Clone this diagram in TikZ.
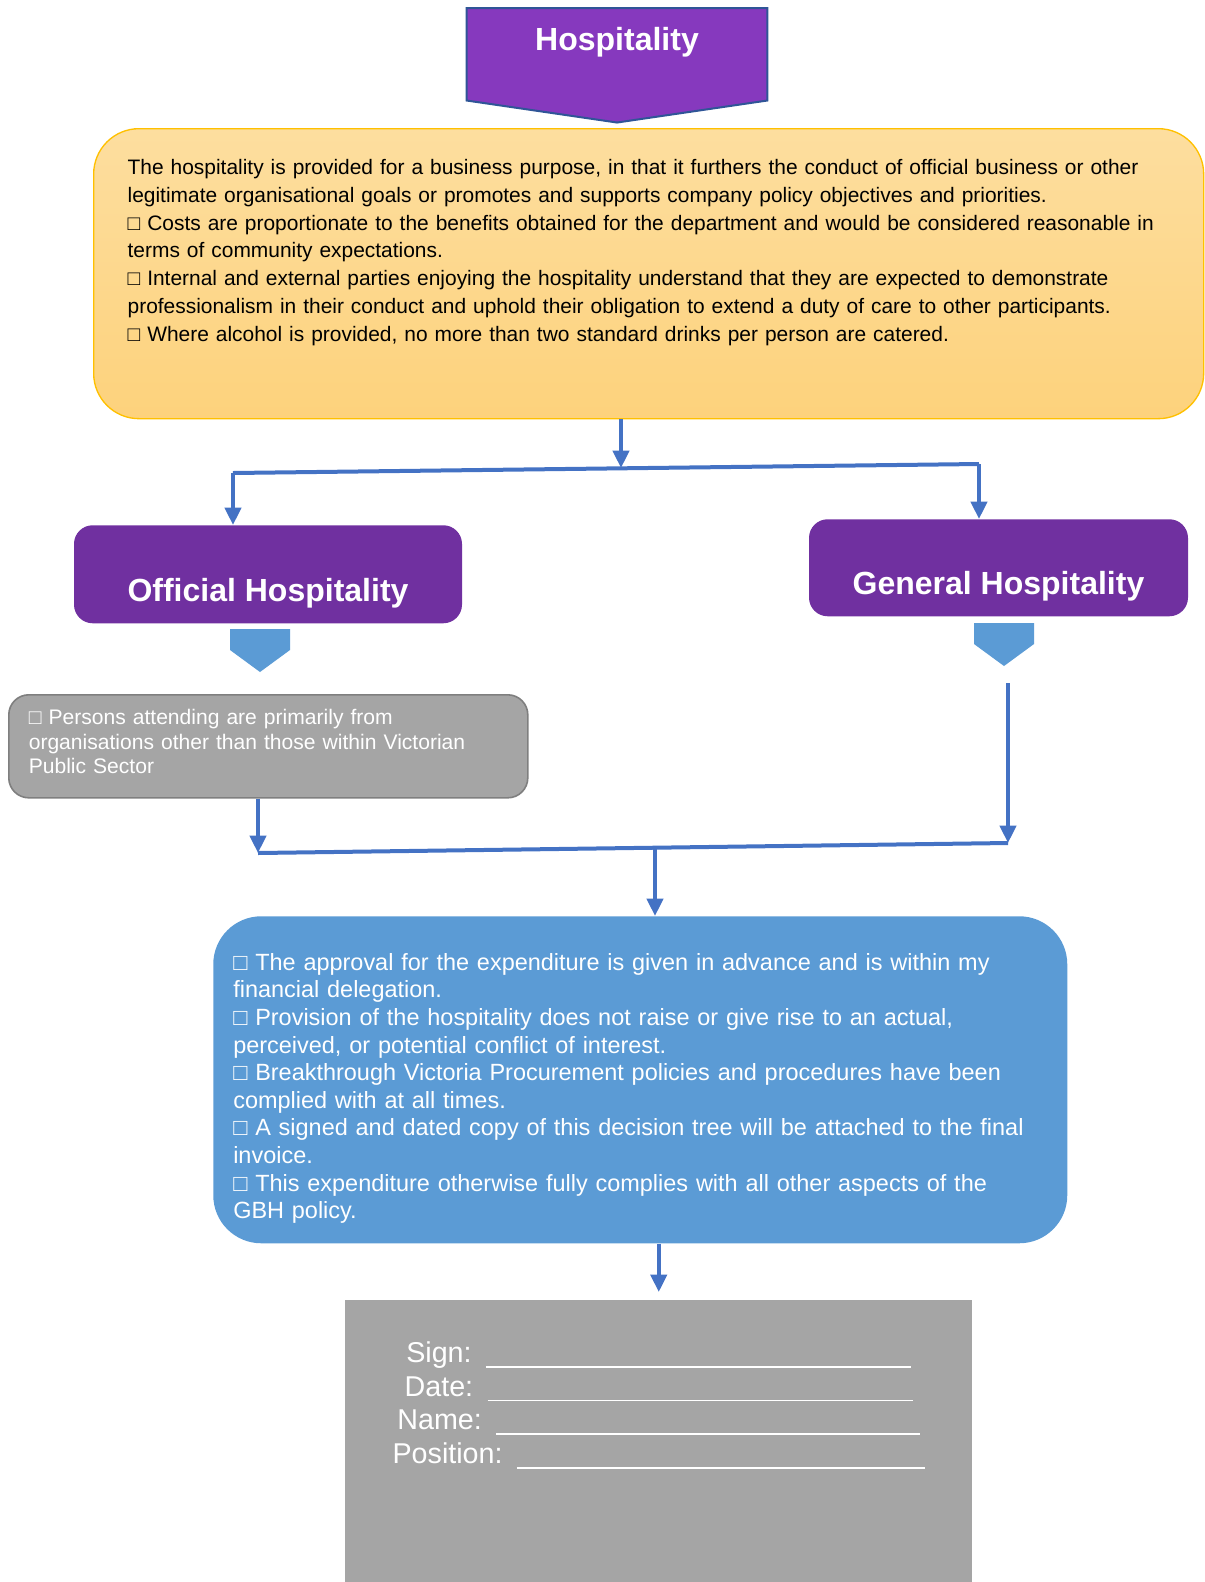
\documentclass[tikz,border=0pt]{standalone}
\usepackage{fontspec}
\setmainfont{Liberation Sans}
\usetikzlibrary{arrows.meta,calc,backgrounds}
\definecolor{headpurple}{HTML}{8639BE}
\definecolor{headborder}{HTML}{2F5597}
\definecolor{branchpurple}{HTML}{7030A0}
\definecolor{goldborder}{HTML}{FFC000}
\definecolor{goldtop}{HTML}{FDDE9F}
\definecolor{goldbottom}{HTML}{FDD27C}
\definecolor{skyblue}{HTML}{5B9BD5}
\definecolor{arrowblue}{HTML}{4472C4}
\definecolor{slategrey}{HTML}{A5A5A5}
\definecolor{greyborder}{HTML}{7F7F7F}
\newcommand{\sqmark}{□}
\newcommand{\signline}[1]{\rule[-4pt]{#1}{1.3pt}}

\begin{document}
\begin{tikzpicture}[
  x=0.75pt, y=-0.75pt,
  >={Triangle[width=12pt,length=13pt]},
  headcard/.style={
    text=white,
    font=\fontsize{24}{28}\selectfont\bfseries,
    minimum width=225pt,
    inner sep=0pt,
    text height=31.5pt,
    text depth=37.5pt
  },
  headshape/.style={
    fill=headpurple,
    draw=headborder,
    line width=1.5pt
  },
  infocard/.style={
    draw=goldborder,
    top color=goldtop,
    bottom color=goldbottom,
    line width=1pt,
    rounded corners=34pt,
    inner xsep=25.5pt,
    inner ysep=0pt,
    text width=781.5pt,
    align=left,
    text height=34.5pt,
    text depth=183pt,
    font=\fontsize{15.7}{20.8}\selectfont
  },
  branchcard/.style={
    fill=branchpurple,
    rounded corners=14pt,
    inner sep=0pt,
    text=white,
    font=\fontsize{24}{28}\selectfont\bfseries,
    text depth=16.5pt
  },
  chevron/.style={
    fill=skyblue
  },
  personscard/.style={
    draw=greyborder,
    fill=slategrey,
    line width=1.2pt,
    rounded corners=15pt,
    inner xsep=15pt,
    inner ysep=0pt,
    text width=359.25pt,
    align=left,
    text=white,
    text height=22.5pt,
    text depth=54.75pt,
    font=\fontsize{15.8}{18.2}\selectfont
  },
  approvalcard/.style={
    fill=skyblue,
    rounded corners=36pt,
    inner xsep=15pt,
    inner ysep=0pt,
    text width=610.5pt,
    align=left,
    text=white,
    text height=40.5pt,
    text depth=204.75pt,
    font=\fontsize{17.6}{20.7}\selectfont
  },
  signcard/.style={
    fill=slategrey,
    inner sep=0pt,
    text width=470.25pt,
    align=center,
    text=white,
    text height=46.5pt,
    text depth=165pt,
    font=\fontsize{21.5}{25.3}\selectfont
  },
  flowline/.style={
    draw=arrowblue,
    line width=3pt
  },
  flowarrow/.style={
    flowline,
    ->
  }
]
  \useasboundingbox (0,0) rectangle (1204,1582);

  % =========================================================================
  % TOP: HEADER AND CRITERIA
  % =========================================================================
  \node[headcard, anchor=north] (hosp) at (617,8) {Hospitality};
  \begin{scope}[on background layer]
    \draw[headshape] (hosp.north west) -- (hosp.north east) -- (hosp.south east)
      -- ($(hosp.south)+(0,22)$) -- (hosp.south west) -- cycle;
  \end{scope}

  \node[infocard, anchor=north west] (info) at (93,128) {
    The hospitality is provided for a business purpose, in that it furthers the conduct of official business or other\\
    legitimate organisational goals or promotes and supports company policy objectives and priorities.\\
    \sqmark\ Costs are proportionate to the benefits obtained for the department and would be considered reasonable in\\
    terms of community expectations.\\
    \sqmark\ Internal and external parties enjoying the hospitality understand that they are expected to demonstrate\\
    professionalism in their conduct and uphold their obligation to extend a duty of care to other participants.\\
    \sqmark\ Where alcohol is provided, no more than two standard drinks per person are catered.
  };

  % =========================================================================
  % BRANCHES
  % =========================================================================
  \node[branchcard, minimum width=291pt, text height=57pt, anchor=north] (official) at (268,525) {Official Hospitality};
  \node[branchcard, minimum width=284.25pt, text height=56.25pt, anchor=north] (general) at (998.5,519) {General Hospitality};

  \foreach \cx/\cy in {260/629, 1004/623}
    \fill[chevron] (\cx-30,\cy) -- (\cx+30,\cy) -- (\cx+30,\cy+21) -- (\cx,\cy+43) -- (\cx-30,\cy+21) -- cycle;

  \node[personscard, anchor=north west] (persons) at (8,694) {
    \sqmark\ Persons attending are primarily from\\
    organisations other than those within Victorian\\
    Public Sector
  };

  \coordinate (topjoin) at (621,468);
  \coordinate (splitL) at (233,473);
  \coordinate (splitR) at (979,464);
  \draw[flowline] (splitL) -- (splitR);
  \draw[flowarrow] (info.south -| topjoin) -- (topjoin);
  \draw[flowarrow] (splitL) -- (splitL |- official.north);
  \draw[flowarrow] (splitR) -- (splitR |- general.north);

  % =========================================================================
  % BOTTOM: APPROVAL AND SIGN-OFF
  % =========================================================================
  \node[approvalcard, anchor=north west] (approval) at (213,916) {
    \sqmark\ The approval for the expenditure is given in advance and is within my\\
    financial delegation.\\
    \sqmark\ Provision of the hospitality does not raise or give rise to an actual,\\
    perceived, or potential conflict of interest.\\
    \sqmark\ Breakthrough Victoria Procurement policies and procedures have been\\
    complied with at all times.\\
    \sqmark\ A signed and dated copy of this decision tree will be attached to the final\\
    invoice.\\
    \sqmark\ This expenditure otherwise fully complies with all other aspects of the\\
    GBH policy.
  };

  \node[signcard, anchor=north west] (sign) at (345,1300) {
    Sign: \signline{319pt}\\
    Date: \signline{319pt}\\
    Name: \signline{318pt}\\
    Position: \signline{306pt}
  };

  \coordinate (joinL) at (258,853);
  \coordinate (joinR) at (1008,843);
  \coordinate (joinM) at (655,848);
  \coordinate (genfree) at (1008,683);
  \draw[flowline] (joinL) -- (joinR);
  \draw[flowarrow] (persons.south -| joinL) -- (joinL);
  \draw[flowarrow] (genfree) -- (joinR);
  \draw[flowarrow] (joinM) -- (joinM |- approval.north);
  \draw[flowarrow, shorten >=6pt] (approval.south -| sign.north) -- (sign.north);

\end{tikzpicture}
\end{document}
